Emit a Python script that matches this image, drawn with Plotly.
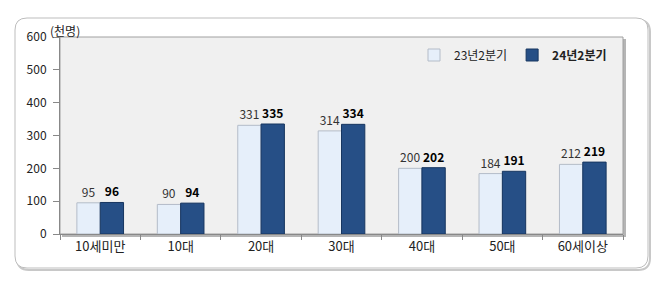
import plotly.graph_objects as go

categories = ["10세미만", "10대", "20대", "30대", "40대", "50대", "60세이상"]
series_23 = [95, 90, 331, 314, 200, 184, 212]
series_24 = [96, 94, 335, 334, 202, 191, 219]
name_23 = "23년2분기"
name_24 = "24년2분기"
y_ticks = [0, 100, 200, 300, 400, 500, 600]

W, H = 661, 289
L, R, T, B = 60, 38, 37, 55
pw, ph = W - L - R, H - T - B

def px_x(p):
    return (p - L) / pw

def px_y(p):
    return (H - B - p) / ph

def rounded_rect(x0p, y0p, x1p, y1p, r):
    x0, x1 = px_x(x0p), px_x(x1p)
    yt, yb = px_y(y0p), px_y(y1p)
    rx, ry = r / pw, r / ph
    return (f"M {x0+rx},{yt} L {x1-rx},{yt} Q {x1},{yt} {x1},{yt-ry} "
            f"L {x1},{yb+ry} Q {x1},{yb} {x1-rx},{yb} "
            f"L {x0+rx},{yb} Q {x0},{yb} {x0},{yb+ry} "
            f"L {x0},{yt-ry} Q {x0},{yt} {x0+rx},{yt} Z")

font = "Noto Sans CJK KR, Malgun Gothic, sans-serif"

fig = go.Figure()
fig.add_trace(go.Bar(
    x=categories, y=series_23, name=name_23,
    marker=dict(color="#e6effa", line=dict(color="#b4bcc8", width=1)),
    text=series_23, texttemplate="%{y}", textposition="outside",
    textfont=dict(size=12, color="#333333", family=font), cliponaxis=False,
))
fig.add_trace(go.Bar(
    x=categories, y=series_24, name="<b>" + name_24 + "</b>",
    marker=dict(color="#264f86", line=dict(color="#173660", width=1)),
    text=series_24, texttemplate="<b>%{y}</b>", textposition="outside",
    textfont=dict(size=12, color="#000000", family=font), cliponaxis=False,
))

shapes = [
    dict(type="path", xref="paper", yref="paper", path=rounded_rect(17, 20, 650, 270, 12),
         line=dict(color="#c8c8c8", width=2), fillcolor="rgba(0,0,0,0)", layer="below"),
    dict(type="path", xref="paper", yref="paper", path=rounded_rect(15, 18, 648, 268, 12),
         line=dict(color="#bdbdbd", width=1), fillcolor="white", layer="below"),
    dict(type="rect", xref="paper", yref="paper", x0=px_x(62), x1=px_x(626), y0=px_y(237), y1=px_y(39),
         line=dict(width=0), fillcolor="#b5b5b5", layer="below"),
    dict(type="rect", xref="paper", yref="paper", x0=0, x1=1, y0=0, y1=1,
         line=dict(color="#a0a0a0", width=1), fillcolor="#f0f0f0", layer="below"),
]

fig.update_layout(
    width=W, height=H,
    margin=dict(l=L, r=R, t=T, b=B),
    paper_bgcolor="white", plot_bgcolor="rgba(0,0,0,0)",
    barmode="group", bargap=0.42, bargroupgap=0.0,
    font=dict(family=font, size=12, color="#222222"),
    showlegend=True,
    legend=dict(orientation="h", x=px_x(414), y=px_y(55), xanchor="left", yanchor="middle",
                bgcolor="rgba(0,0,0,0)", font=dict(size=12, color="#222222"),
                itemwidth=30, tracegroupgap=0),
    shapes=shapes,
    annotations=[dict(text="(천명)", xref="paper", yref="paper", x=px_x(48), y=px_y(30),
                      xanchor="left", yanchor="middle", showarrow=False,
                      font=dict(size=12, color="#222222"))],
)
fig.update_yaxes(range=[0, 600], tickvals=y_ticks, showgrid=False, zeroline=False,
                 showline=True, linecolor="#888888", ticks="outside", ticklen=6,
                 tickcolor="#888888", tickfont=dict(size=12), ticklabelstandoff=4)
fig.update_xaxes(showgrid=False, showline=True, linecolor="#888888", ticks="outside",
                 tickson="boundaries", ticklen=5, tickcolor="#888888",
                 tickfont=dict(size=13))

fig.write_html("out.html", config={"displayModeBar": False},
               post_script="document.body.style.margin='0';")
